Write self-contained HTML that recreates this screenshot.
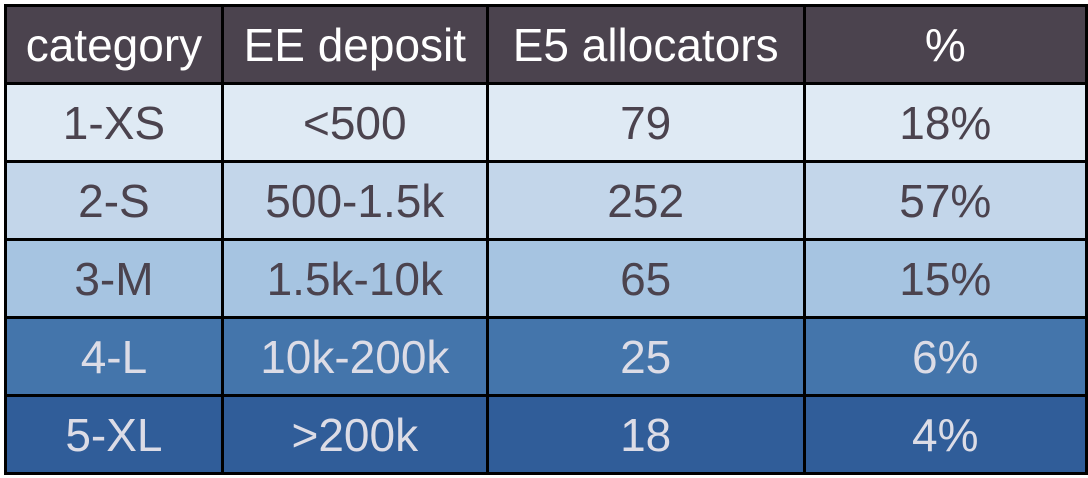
<!DOCTYPE html>
<html><head><meta charset="utf-8"><style>
html,body{margin:0;padding:0;background:#fff;width:1088px;height:478px;overflow:hidden;}
table{position:absolute;left:4px;top:4px;border-collapse:collapse;font-family:"Liberation Sans",sans-serif;font-size:46px;}
td,th{border:3px solid #000;text-align:center;padding:0;height:75px;font-weight:normal;white-space:nowrap;}
th{background:#4b434e;color:#fff;}
.r1{background:#dfeaf4;color:#4b434e}
.r2{background:#c3d6ea;color:#4b434e}
.r3{background:#a6c4e1;color:#4b434e}
.r4{background:#4475ab;color:#dcdce6}
.r5{background:#305d99;color:#dcdce6}
</style></head><body>
<table>
<colgroup><col style="width:217px"><col style="width:265px"><col style="width:317px"><col style="width:283px"></colgroup>
<tr><th>category</th><th>EE deposit</th><th>E5 allocators</th><th>%</th></tr>
<tr class="r1"><td>1-XS</td><td>&lt;500</td><td>79</td><td>18%</td></tr>
<tr class="r2"><td>2-S</td><td>500-1.5k</td><td>252</td><td>57%</td></tr>
<tr class="r3"><td>3-M</td><td>1.5k-10k</td><td>65</td><td>15%</td></tr>
<tr class="r4"><td>4-L</td><td>10k-200k</td><td>25</td><td>6%</td></tr>
<tr class="r5"><td>5-XL</td><td>&gt;200k</td><td>18</td><td>4%</td></tr>
</table>
</body></html>
